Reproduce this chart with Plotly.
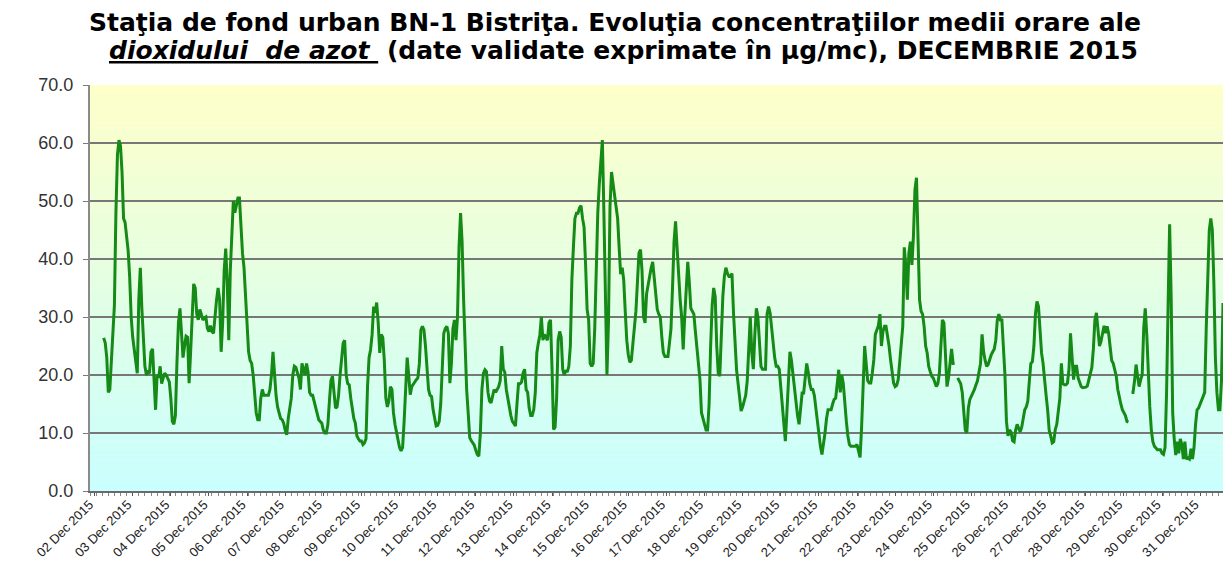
import plotly.graph_objects as go

# hourly NO2 values (µg/mc), one list per day of December 2015 (hours 01..24)
d01 = [None, None, None, None, None, None, None, None, None, 26.4, 25.5, 23, 17, 17.5, 22.5, 26, 32, 48, 58, 60.5, 59.5, 55, 47, 46.3]
d02 = [44, 41.5, 37, 30, 26.5, 24.5, 22.5, 20.3, 33, 38.5, 31.5, 27, 21.5, 20, 20.5, 20.3, 24, 24.5, 18, 14, 20, 19.5, 21.5, 18.5]
d03 = [19.5, 20.3, 20, 19.5, 18.8, 16, 12, 11.5, 13, 22, 29, 31.5, 27, 23, 25, 26.7, 26.5, 18.6, 24, 31, 35.7, 35, 30.5, 29.5]
d04 = [31.3, 30.5, 29.5, 29.8, 30, 28, 27.5, 28.5, 27.5, 27.2, 30.7, 33, 35, 33, 24, 29, 38, 41.8, 36, 26, 38, 45, 50, 48]
d05 = [49, 50.5, 50.5, 45.5, 41, 38.5, 34, 29, 24, 22.5, 22, 20, 16.5, 13.5, 12.3, 12.3, 16, 17.5, 16.5, 16.5, 16.5, 16.5, 17.5, 20]
d06 = [24, 20, 16.5, 14.5, 13.5, 12.5, 12.3, 11.7, 10.5, 9.7, 12.5, 14.3, 16, 20, 21.5, 21.3, 20.5, 19.5, 17.5, 22, 21, 20, 22, 20.5]
d07 = [17, 16.5, 16.5, 15.5, 14.5, 13, 12.3, 12, 11.7, 10.5, 10, 10, 11.5, 15.5, 19, 19.8, 17, 14.3, 14.5, 16.5, 20, 23.5, 25.5, 26]
d08 = [20, 18.5, 18.3, 16, 14, 12.5, 11.7, 9.5, 9, 8.6, 8.6, 8, 8.3, 9, 18, 23, 24.4, 27, 31.8, 30.7, 32.5, 29, 23.8, 27]
d09 = [26.5, 22.5, 16, 14.5, 15.5, 18, 17.5, 13.5, 11.5, 10, 8.8, 7.5, 6.9, 7.5, 12, 19, 23, 20, 16.6, 18, 18.5, 18.8, 19.2, 19.5]
d10 = [22, 27.8, 28.4, 27.8, 25, 21, 17.5, 16.5, 16.3, 14, 12.5, 11.2, 11.3, 12, 15, 20, 27.2, 28, 28.4, 27.2, 18.6, 22, 28, 29.5]
d11 = [26, 30, 42, 47.9, 43, 33, 25, 17.5, 13.5, 9.2, 8.7, 8.3, 7.9, 7, 6.3, 6, 10, 17.5, 20.3, 20.9, 20.6, 17, 15.5, 15.2]
d12 = [16.5, 17.5, 17, 17.5, 18, 19, 25, 21, 20.5, 17.5, 16, 14, 13, 12, 11.5, 11.2, 15, 18.5, 18.5, 18.8, 20.3, 21, 17.5, 17]
d13 = [14.3, 13, 13, 14, 16.9, 23.8, 25.5, 26.9, 30, 26, 27, 26.5, 26, 29, 29.5, 21, 10.6, 11, 16, 26, 27.5, 26.5, 21, 20]
d14 = [20.8, 20.5, 21.5, 25, 36.4, 42, 47, 47.9, 47.9, 48.8, 49.2, 47, 45.5, 39, 31.3, 29.5, 22, 21.5, 22, 28, 41, 48, 53, 57]
d15 = [60.5, 48, 33.5, 20, 29, 49, 55, 53, 50.5, 48.5, 47, 42, 37.4, 38.5, 36.4, 31, 26, 23.5, 22.2, 22.5, 25, 28, 31, 36]
d16 = [41, 41.6, 38, 30, 29, 34, 35.5, 37.5, 38.5, 39.5, 36.5, 33.5, 31.3, 30.5, 30, 26.5, 23.8, 23.2, 23.2, 23.2, 25.5, 28, 35, 43]
d17 = [46.5, 42, 36, 33, 30, 24.4, 30, 35, 39.5, 36, 31.5, 31, 30.5, 27.5, 24.5, 22.6, 19.2, 13.5, 12.3, 11.5, 10.5, 10.5, 15, 25]
d18 = [32, 35, 33.5, 25, 20.3, 19.8, 28, 33.5, 37, 38.5, 37.5, 37, 37, 37.5, 30.7, 24.9, 20.9, 18.5, 15.8, 13.8, 14.5, 15.5, 16.5, 19]
d19 = [25, 30, 23.8, 21, 27, 31.5, 30, 25, 21.5, 21, 21, 21, 30.5, 31.8, 30.7, 28, 25.5, 23, 21.5, 21.5, 21, 18, 15, 11]
d20 = [8.6, 13.5, 20, 24, 22.5, 20, 18.5, 15.5, 13, 11.5, 14.5, 16.9, 16.9, 19, 22, 20.5, 18.5, 17.5, 17.5, 16.5, 14, 12, 10, 7.7]
d21 = [6.3, 8, 10, 12.5, 14, 14, 14, 15, 15.8, 16, 19, 20.9, 17, 20, 18.5, 14.5, 12, 9.5, 8, 7.7, 7.7, 7.7, 7.7, 8]
d22 = [7, 5.8, 11, 20, 25, 22, 19, 18.6, 18.6, 20.3, 22.6, 27, 28, 28.5, 30.5, 25, 27.5, 28.4, 28.4, 27, 25, 22.6, 20.3, 18.6]
d23 = [18, 18.2, 19.2, 22, 25.5, 28.4, 42, 38.7, 33, 41, 43, 39, 44, 52, 54, 44, 33, 31, 30.5, 28.4, 25, 23.8, 21.5, 20.6]
d24 = [19.8, 19.5, 18.5, 18, 18.5, 20.3, 25, 29.5, 29, 22.5, 18, 19.5, 22, 24.5, 22, 22, None, 19.5, 19, 18.5, 17, 13, 10.5, 10]
d25 = [14.3, 15.8, 16.3, 17, 17.5, 18.3, 19, 20.5, 22, 27, 24, 22.5, 21.5, 21.8, 22.8, 23.5, 24, 24.5, 26, 29.5, 30.5, 29.5, 29.5, 25]
d26 = [20, 12, 9.5, 10.5, 10.2, 8.7, 8.5, 10.5, 11.5, 10.8, 10.2, 11, 13, 14, 14.5, 15.5, 19, 22, 22.3, 25, 30.5, 32.7, 31.8, 27.5]
d27 = [23.8, 22, 18.5, 16.5, 14, 10.5, 9.5, 8.3, 8.5, 10.6, 11.5, 13.5, 16, 22, 18.5, 18.3, 18.3, 18.6, 21, 27.2, 22, 19.2, 21.5, 21.5]
d28 = [19.5, 18.6, 18, 17.8, 17.8, 17.9, 18.1, 19.2, 20.2, 21.3, 24.5, 29.5, 30.7, 27, 25, 25.8, 27.5, 28.5, 27.2, 28.4, 27.2, 24.5, 22.5, 22]
d29 = [21, 19.8, 17.5, 16, 15, 14, 13.5, 13, 12, 11.9, None, 17, 17, 19, 21.8, 19.8, 18, 19.2, 20, 28, 31.5, 27, 20, 14.5]
d30 = [10.5, 8.5, 7.7, 7.4, 7.1, 7.1, 7.1, 6.5, 6.3, 7.5, 17, 32, 46, 33.5, 13.5, 9, 6.2, 8.5, 6.5, 9, 8, 5.5, 8.5, 5.5]
d31 = [5.7, 5.5, 7.3, 5.5, 7.5, 11.5, 14, 14.3, 15, 15.5, 16.5, 17, 28, 36, 45, 47, 45, 36, 23, 17, 14, 14, 19, 32.4]

tick_labels = ["02 Dec 2015", "03 Dec 2015", "04 Dec 2015", "05 Dec 2015", "06 Dec 2015",
               "07 Dec 2015", "08 Dec 2015", "09 Dec 2015", "10 Dec 2015", "11 Dec 2015",
               "12 Dec 2015", "13 Dec 2015", "14 Dec 2015", "15 Dec 2015", "16 Dec 2015",
               "17 Dec 2015", "18 Dec 2015", "19 Dec 2015", "20 Dec 2015", "21 Dec 2015",
               "22 Dec 2015", "23 Dec 2015", "24 Dec 2015", "25 Dec 2015", "26 Dec 2015",
               "27 Dec 2015", "28 Dec 2015", "29 Dec 2015", "30 Dec 2015", "31 Dec 2015"]

title_line1 = "Staţia de fond urban BN-1 Bistriţa. Evoluţia concentraţiilor medii orare ale"
title_line2a = "dioxidului  de azot "
title_line2b = " (date validate exprimate în µg/mc), DECEMBRIE 2015"

days = [d01, d02, d03, d04, d05, d06, d07, d08, d09, d10, d11, d12, d13, d14, d15, d16,
        d17, d18, d19, d20, d21, d22, d23, d24, d25, d26, d27, d28, d29, d30, d31]
values = [v for day in days for v in day]
hours = list(range(len(values)))

# category positions of the axis labels (one label every 25 categories)
label_step = 25
label_first = 3
tick_pos = [label_first + label_step * k for k in range(len(tick_labels))]

fig = go.Figure()
fig.add_trace(go.Scatter(
    x=hours, y=values, mode="lines",
    line=dict(color="#168a16", width=3),
    connectgaps=False, hoverinfo="skip", showlegend=False,
))

# vertical gradient (yellow at top -> cyan at bottom) for the plot area
shapes = []
n_bands = 80
top = (255, 255, 200)
bottom = (200, 255, 255)
for k in range(n_bands):
    f = (k + 0.5) / n_bands
    c = tuple(round(bottom[j] + (top[j] - bottom[j]) * f) for j in range(3))
    shapes.append(dict(type="rect", xref="paper", yref="paper",
                       x0=0, x1=1, y0=k / n_bands, y1=(k + 1) / n_bands,
                       fillcolor="rgb(%d,%d,%d)" % c, line=dict(width=0),
                       layer="below"))

W, H = 1223, 570
ML, MR, MT, MB = 90, 0, 85, 78.5
plot_h = H - MT - MB
plot_w = W - ML - MR

title_font = dict(family="DejaVu Sans", size=25, color="black")
annotations = [
    dict(text="<b>" + title_line1 + "</b>", xref="paper", yref="paper",
         x=(615 - ML) / plot_w, y=1 + (MT - 22) / plot_h, xanchor="center", yanchor="middle",
         showarrow=False, font=title_font),
    dict(text="<b><i><u>" + title_line2a + "</u></i>" + title_line2b + "</b>",
         xref="paper", yref="paper",
         x=(623 - ML) / plot_w, y=1 + (MT - 50) / plot_h, xanchor="center", yanchor="middle",
         showarrow=False, font=title_font),
]

fig.update_layout(
    width=W, height=H,
    margin=dict(l=ML, r=MR, t=MT, b=MB, autoexpand=False),
    paper_bgcolor="white",
    plot_bgcolor="rgb(228,255,228)",
    shapes=shapes,
    annotations=annotations,
    font=dict(family="Liberation Sans", color="#222"),
)
fig.update_yaxes(
    range=[0, 70], dtick=10, tickformat=".1f",
    showgrid=True, gridcolor="#777777", gridwidth=1.3,
    showline=True, linecolor="#8a8a8a", linewidth=2,
    ticks="outside", ticklen=5, tickcolor="#7a7a7a",
    ticklabelstandoff=6,
    tickfont=dict(family="Liberation Sans", size=18, color="#333"),
    zeroline=False,
)
fig.update_xaxes(
    range=[0, len(values) - 1],
    tickmode="array", tickvals=tick_pos, ticktext=tick_labels,
    tickangle=-45, showgrid=False, zeroline=False,
    showline=True, linecolor="#6a6a6a", linewidth=2,
    ticks="outside", ticklen=3, tickcolor="#555",
    ticklabelshift=-5, ticklabelstandoff=-4,
    minor=dict(ticks="outside", tickmode="linear", tick0=0, dtick=4, ticklen=3, tickcolor="#888", showgrid=False),
    tickfont=dict(family="Liberation Sans", size=13, color="#222"),
)

# remove the browser's default 8px page margin so the figure fills the window
fig.write_html("out.html",
               config={"displayModeBar": False, "staticPlot": True},
               post_script="document.body.style.margin='0';document.body.style.overflow='hidden';")
